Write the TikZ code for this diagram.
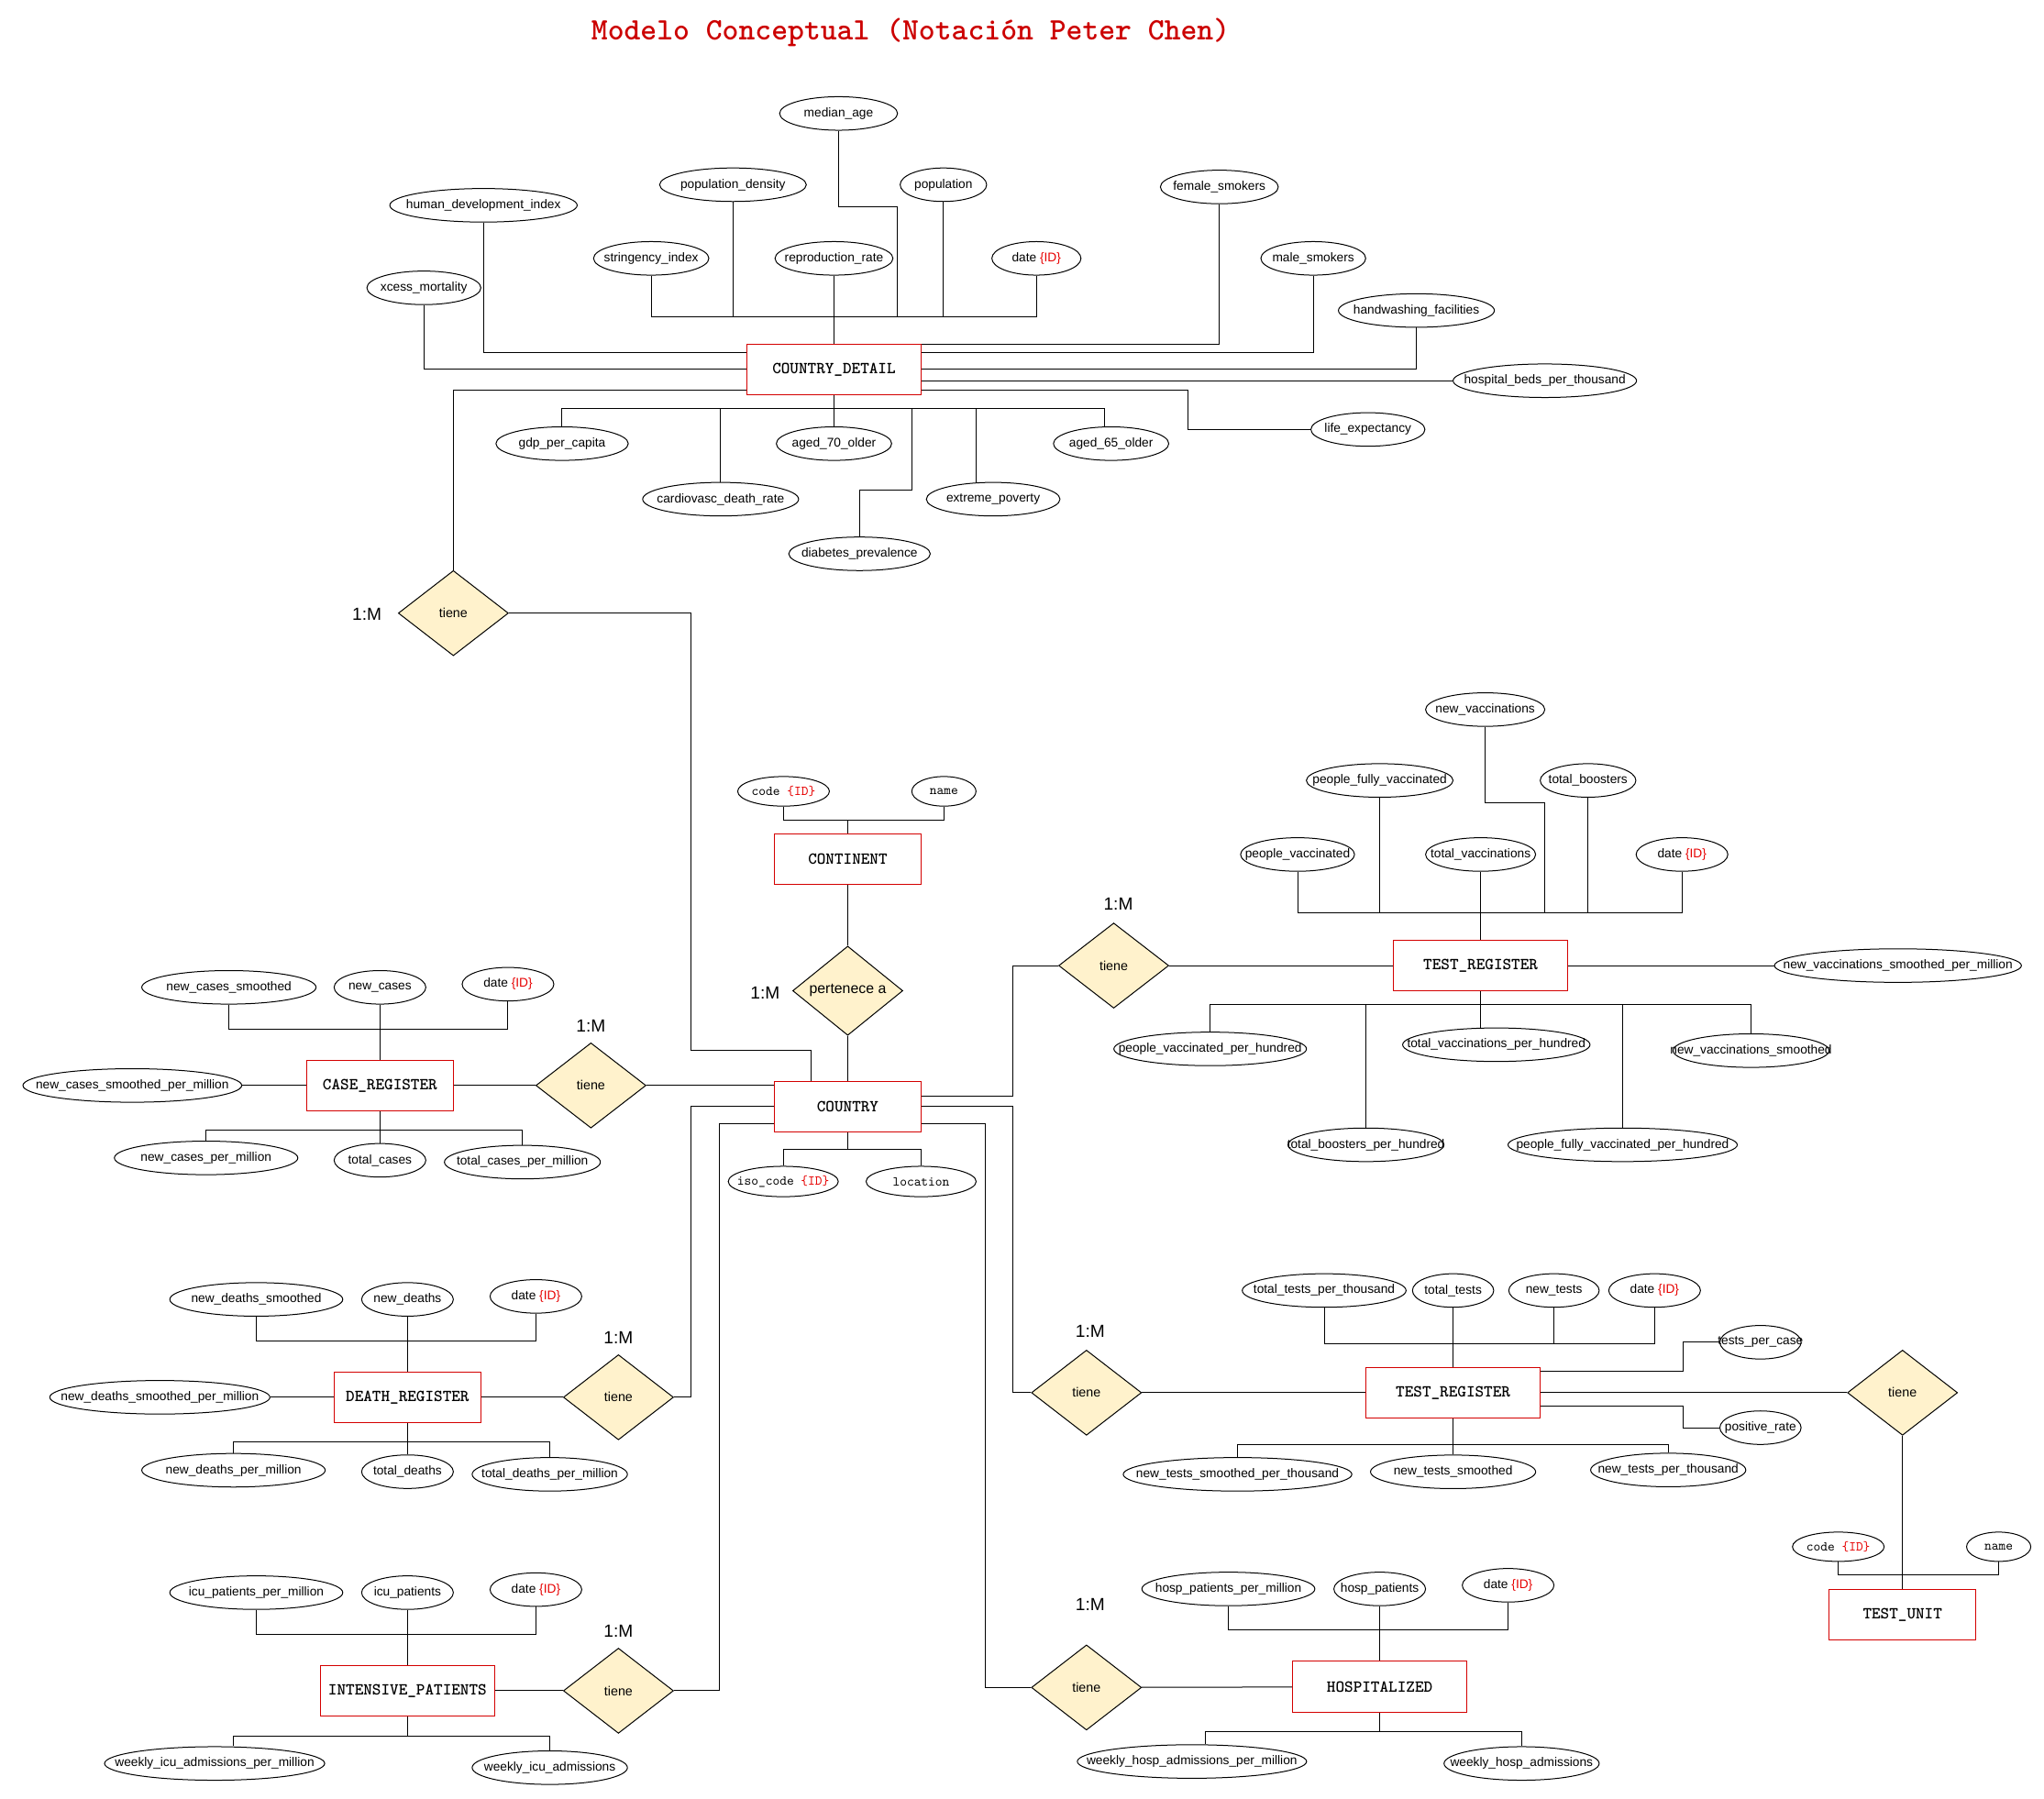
\documentclass[tikz,border=0pt]{standalone}
\usepackage{fontspec}
\setmainfont{Liberation Sans}
\usetikzlibrary{shapes.geometric}
\definecolor{entred}{HTML}{D40000}
\definecolor{idred}{HTML}{E60000}
\definecolor{titlered}{HTML}{CC0000}
\definecolor{relfill}{HTML}{FFF2CC}
\newcommand{\pkid}{\textcolor{idred}{\{ID\}}}

\begin{document}
\begin{tikzpicture}[x=1pt,y=-1pt,line width=0.7pt,
    attr/.style={draw, ellipse, inner xsep=-60pt, inner ysep=0pt, minimum height=25.6, font=\fontsize{9.6}{11}\selectfont},
    keyattr/.style={attr, minimum height=22.6, font=\ttfamily\fontsize{10.3}{12}\selectfont},
    entity/.style={draw=entred, fill=white, line width=0.8pt, minimum width=112, minimum height=38.6, font=\ttfamily\bfseries\fontsize{12.8}{14}\selectfont},
    wide/.style={minimum width=133},
    rel/.style={draw, diamond, fill=relfill, inner sep=0pt, minimum width=84, minimum height=65, font=\fontsize{10}{12}\selectfont},
    card/.style={font=\fontsize{13.4}{15}\selectfont}]
\useasboundingbox (0,0) rectangle (1560,1373.1);

\node[font=\ttfamily\bfseries\fontsize{23.8}{26}\selectfont, text=titlered] (title) at (695,25) {Modelo Conceptual (Notación Peter Chen)};

% COUNTRY_DETAIL
\node[entity, wide, minimum height=38] (cdetail) at (636.5,282) {COUNTRY\_DETAIL};
\node[attr, minimum width=90] (medage) at (640,86.6) {median\_age};
\node[attr, minimum width=112] (popdens) at (559.4,141) {population\_density};
\node[attr, minimum width=66] (pop) at (720,141) {population};
\node[attr, minimum width=143] (hdi) at (369,156.7) {human\_development\_index};
\node[attr, minimum width=88] (string) at (497,197.2) {stringency\_index};
\node[attr, minimum width=90] (repro) at (636.5,197.2) {reproduction\_rate};
\node[attr, minimum width=68] (cddate) at (791,197.2) {date \pkid};
\node[attr, minimum width=87] (xcess) at (323.5,219.7) {xcess\_mortality};
\node[attr, minimum width=90] (fsmok) at (930.6,142.7) {female\_smokers};
\node[attr, minimum width=80] (msmok) at (1002.3,197.2) {male\_smokers};
\node[attr, minimum width=119] (handw) at (1081,237) {handwashing\_facilities};
\node[attr, minimum width=140] (hbeds) at (1179,290.6) {hospital\_beds\_per\_thousand};
\node[attr, minimum width=87] (lifeexp) at (1044,327.8) {life\_expectancy};
\node[attr, minimum width=101] (gdp) at (429,338.6) {gdp\_per\_capita};
\node[attr, minimum width=88] (aged70) at (636.5,338.6) {aged\_70\_older};
\node[attr, minimum width=88] (aged65) at (848,338.6) {aged\_65\_older};
\node[attr, minimum width=119] (cardio) at (550,381) {cardiovasc\_death\_rate};
\node[attr, minimum width=102] (expov) at (758,381) {extreme\_poverty};
\node[attr, minimum width=108] (diab) at (656,422.7) {diabetes\_prevalence};
\node[rel] (rcd) at (346,468) {tiene};
\node[card] at (280,469) {1:M};

% CONTINENT and COUNTRY
\node[entity] (continent) at (647,655.7) {CONTINENT};
\node[keyattr, minimum width=70] (ccode) at (598,604) {code \pkid};
\node[keyattr, minimum width=49] (cname) at (720.4,604) {\raisebox{-3pt}{name}};
\node[rel, font=\fontsize{11.1}{13}\selectfont] (rcont) at (647,756.2) {pertenece a};
\node[card] at (584,758) {1:M};
\node[entity] (country) at (647,844.7) {COUNTRY};
\node[keyattr, minimum width=84, minimum height=23.2] (iso) at (597.8,901.8) {iso\_code \pkid};
\node[keyattr, minimum width=84, minimum height=23.2] (loc) at (703,901.8) {\raisebox{-3pt}{location}};

% CASE_REGISTER
\node[entity] (casereg) at (290,828.5) {CASE\_REGISTER};
\node[attr, minimum width=133] (ncs) at (174.7,753.6) {new\_cases\_smoothed};
\node[attr, minimum width=70] (nc) at (290,753.6) {new\_cases};
\node[attr, minimum width=70] (casedate) at (387.7,751.2) {date \pkid};
\node[attr, minimum width=167] (ncspm) at (101,828.5) {new\_cases\_smoothed\_per\_million};
\node[attr, minimum width=140] (ncpm) at (157.3,883.8) {new\_cases\_per\_million};
\node[attr, minimum width=70] (tcases) at (290,885.6) {total\_cases};
\node[attr, minimum width=119] (tcpm) at (398.7,887) {total\_cases\_per\_million};
\node[rel] (rcase) at (451,828.5) {tiene};
\node[card] at (451,783) {1:M};

% DEATH_REGISTER
\node[entity] (deathreg) at (311,1066.5) {DEATH\_REGISTER};
\node[attr, minimum width=132] (nds) at (195.6,991.8) {new\_deaths\_smoothed};
\node[attr, minimum width=70] (nd) at (311,991.8) {new\_deaths};
\node[attr, minimum width=70] (deathdate) at (409,989.5) {date \pkid};
\node[attr, minimum width=168] (ndspm) at (122,1066.5) {new\_deaths\_smoothed\_per\_million};
\node[attr, minimum width=140] (ndpm) at (178.2,1122.2) {new\_deaths\_per\_million};
\node[attr, minimum width=70] (tdeaths) at (311,1123.3) {total\_deaths};
\node[attr, minimum width=118.5] (tdpm) at (419.6,1125.3) {total\_deaths\_per\_million};
\node[rel] (rdeath) at (472,1066.5) {tiene};
\node[card] at (472,1021.3) {1:M};

% INTENSIVE_PATIENTS
\node[entity, wide, minimum height=38.2] (icureg) at (311,1290.5) {INTENSIVE\_PATIENTS};
\node[attr, minimum width=132] (icupm) at (195.6,1215.6) {icu\_patients\_per\_million};
\node[attr, minimum width=70] (icup) at (311,1215.6) {icu\_patients};
\node[attr, minimum width=70] (icudate) at (409,1213.3) {date \pkid};
\node[attr, minimum width=168] (wicupm) at (163.8,1346) {weekly\_icu\_admissions\_per\_million};
\node[attr, minimum width=118.5] (wicu) at (419.6,1349.2) {weekly\_icu\_admissions};
\node[rel] (ricu) at (472,1290.5) {tiene};
\node[card] at (472,1245.3) {1:M};

% TEST_REGISTER (vaccinations)
\node[entity, wide] (vaccreg) at (1130,737) {TEST\_REGISTER};
\node[attr, minimum width=87] (pvac) at (990.3,652.2) {people\_vaccinated};
\node[attr, minimum width=112] (pfvac) at (1053,595.7) {people\_fully\_vaccinated};
\node[attr, minimum width=91] (nvac) at (1133.5,541.6) {new\_vaccinations};
\node[attr, minimum width=73] (tboost) at (1212,595.7) {total\_boosters};
\node[attr, minimum width=84] (tvac) at (1130,652.2) {total\_vaccinations};
\node[attr, minimum width=70] (vacdate) at (1283.7,652.2) {date \pkid};
\node[attr, minimum width=188.5] (nvspm) at (1448.5,737) {new\_vaccinations\_smoothed\_per\_million};
\node[attr, minimum width=147] (pvph) at (923.6,800.6) {people\_vaccinated\_per\_hundred};
\node[attr, minimum width=119] (tbph) at (1042.5,873.8) {total\_boosters\_per\_hundred};
\node[attr, minimum width=143] (tvph) at (1142,797.4) {total\_vaccinations\_per\_hundred};
\node[attr, minimum width=175] (pfvph) at (1238.4,873.8) {people\_fully\_vaccinated\_per\_hundred};
\node[attr, minimum width=119] (nvs) at (1336.4,801.9) {new\_vaccinations\_smoothed};
\node[rel] (rvacc) at (850,737) {tiene};
\node[card] at (853.5,690) {1:M};

% TEST_REGISTER (tests) and TEST_UNIT
\node[entity, wide, minimum height=38.5] (testreg) at (1109,1063) {TEST\_REGISTER};
\node[attr, minimum width=125] (ttpt) at (1010.6,985) {total\_tests\_per\_thousand};
\node[attr, minimum width=62] (totaltests) at (1109,985) {total\_tests};
\node[attr, minimum width=69] (newtests) at (1186,985) {new\_tests};
\node[attr, minimum width=70] (testdate) at (1262.8,985) {date \pkid};
\node[attr, minimum width=62] (tpc) at (1343.6,1024.5) {tests\_per\_case};
\node[attr, minimum width=62] (prate) at (1343.6,1089.7) {positive\_rate};
\node[attr, minimum width=174.5] (ntspt) at (944.5,1125.3) {new\_tests\_smoothed\_per\_thousand};
\node[attr, minimum width=126] (nts) at (1109,1123.4) {new\_tests\_smoothed};
\node[attr, minimum width=118.4] (ntpt) at (1273.2,1122) {new\_tests\_per\_thousand};
\node[rel] (rtests) at (829.2,1063) {tiene};
\node[card] at (832,1016.4) {1:M};
\node[rel] (runit) at (1452,1063) {tiene};
\node[entity] (testunit) at (1452,1232.3) {TEST\_UNIT};
\node[keyattr, minimum width=70, minimum height=22.4] (ucode) at (1403,1180.6) {code \pkid};
\node[keyattr, minimum width=49, minimum height=22.4] (uname) at (1525.4,1180.6) {\raisebox{-3pt}{name}};

% HOSPITALIZED
\node[entity, wide, minimum height=39] (hosp) at (1053,1287.5) {HOSPITALIZED};
\node[attr, minimum width=132] (hppm) at (937.5,1212.8) {hosp\_patients\_per\_million};
\node[attr, minimum width=70] (hp) at (1053,1212.8) {hosp\_patients};
\node[attr, minimum width=70] (hospdate) at (1151,1210) {date \pkid};
\node[attr, minimum width=175] (whapm) at (909.7,1344.5) {weekly\_hosp\_admissions\_per\_million};
\node[attr, minimum width=118.4] (wha) at (1161.3,1346) {weekly\_hosp\_admissions};
\node[rel] (rhosp) at (829.2,1288) {tiene};
\node[card] at (832,1224.8) {1:M};

% Lines: COUNTRY_DETAIL
\coordinate (cdtop) at (636.5,241.6);
\coordinate (cdbot) at (636.5,311.9);
\draw (repro) -- (cdetail);
\draw (string.south) |- (cdtop);
\draw (popdens.south) |- (cdtop);
\draw (pop.south) |- (cdtop);
\draw (cddate.south) |- (cdtop);
\draw (medage.south) |- (685,158) |- (cdtop);
\draw (hdi.south) |- ([yshift=12.6pt]cdetail.west);
\draw (xcess.south) |- (cdetail.west);
\draw (rcd.north) |- ([yshift=-15.6pt]cdetail.west);
\draw (fsmok.south) |- ([yshift=19pt]cdetail.east);
\draw (msmok.south) |- ([yshift=12.6pt]cdetail.east);
\draw (handw.south) |- (cdetail.east);
\draw (cdetail.east |- hbeds.west) -- (hbeds.west);
\draw ([yshift=-15.6pt]cdetail.east) -- ++(203,0) |- (lifeexp.west);
\draw (cdetail) -- (aged70);
\draw (cdbot) -| (gdp.north);
\draw (cdbot) -| (cardio.north);
\draw (cdbot) -| ([xshift=-5pt]aged65.north);
\draw (cdbot) -| ([xshift=-13pt]expov.north);
\draw (cdbot) -| (695.8,374.4) -| (diab.north);
\draw (rcd.east) -| (527.6,801.5) -| ([xshift=-28pt]country.north);

% Lines: CONTINENT and COUNTRY
\coordinate (ctbus) at (647,626);
\draw (ccode.south) |- (ctbus) -| (cname.south);
\draw (ctbus) -- (continent.north);
\draw (continent) -- (rcont) -- (country);
\draw (country.south) -- ++(0,13.1) -| (iso.north);
\draw (country.south) -- ++(0,13.1) -| (loc.north);

% Lines: CASE_REGISTER
\draw (nc) -- (casereg);
\draw (ncs.south) |- (290,785.5) -| (casedate.south);
\draw (ncspm) -- (casereg);
\draw (casereg) -- (tcases);
\draw (ncpm.north) |- (290,862.4) -| (tcpm.north);
\draw (casereg) -- (rcase) -- (rcase.east -| country.west);

% Lines: DEATH_REGISTER
\draw (nd) -- (deathreg);
\draw (nds.south) |- (311,1023.5) -| (deathdate.south);
\draw (ndspm) -- (deathreg) -- (rdeath);
\draw (deathreg) -- (tdeaths);
\draw (ndpm.north) |- (311,1100.5) -| (tdpm.north);
\draw (country.west) -| (527.6,1066.5) -- (rdeath.east);

% Lines: INTENSIVE_PATIENTS
\draw (icup) -- (icureg);
\draw (icupm.south) |- (311,1247.2) -| (icudate.south);
\draw (icureg) -- (ricu);
\draw (icureg.south) -- ++(0,15) -| ([xshift=14.4pt]wicupm.north);
\draw (icureg.south) -- ++(0,15) -| (wicu.north);
\draw ([yshift=-12.9pt]country.west) -| (549,1290.5) -- (ricu.east);

% Lines: TEST_REGISTER (vaccinations)
\coordinate (vbus) at (1130,696.4);
\coordinate (vbot) at (1130,766.7);
\draw (tvac) -- (vaccreg);
\draw (pvac.south) |- (vbus) -| (vacdate.south);
\draw (pfvac.south) |- (vbus);
\draw (tboost.south) |- (vbus);
\draw (nvac.south) |- (1178.7,612.6) |- (vbus);
\draw (vaccreg) -- (nvspm);
\draw (vaccreg.south) -- (vbot);
\draw (vbot) -| (pvph.north);
\draw (vbot) -| (tbph.north);
\draw (vbot) -| ([xshift=-12pt]tvph.north);
\draw (vbot) -| (pfvph.north);
\draw (vbot) -| (nvs.north);
\draw (rvacc) -- (vaccreg);
\draw ([yshift=8.3pt]country.east) -| (772.9,737) -- (rvacc.west);

% Lines: TEST_REGISTER (tests) and TEST_UNIT
\coordinate (tbus) at (1109,1025.4);
\draw (totaltests) -- (testreg);
\draw (ttpt.south) |- (tbus) -| (testdate.south);
\draw (newtests.south) |- (tbus);
\draw ([yshift=16.6pt]testreg.east) -- ++(108.4,0) |- (tpc.west);
\draw ([yshift=-10pt]testreg.east) -- ++(108.4,0) |- (prate.west);
\draw (testreg.south) -- ++(0,20.2) -| (ntspt.north);
\draw (testreg.south) -- ++(0,20.2) -| (ntpt.north);
\draw (testreg) -- (nts);
\draw (country.east) -| (772.9,1063) -- (rtests.west);
\draw (rtests) -- (testreg) -- (runit) -- (testunit);
\draw (ucode.south) |- (1452,1202.2) -| (uname.south);

% Lines: HOSPITALIZED
\draw (hp) -- (hosp);
\draw (hppm.south) |- (1053,1244.2) -| (hospdate.south);
\draw (hosp.south) -- ++(0,14.3) -| ([xshift=10.3pt]whapm.north);
\draw (hosp.south) -- ++(0,14.3) -| (wha.north);
\draw ([yshift=-12.9pt]country.east) -| (751.9,1288) -- (rhosp.west);
\draw (rhosp) -- (hosp);
\end{tikzpicture}
\end{document}
